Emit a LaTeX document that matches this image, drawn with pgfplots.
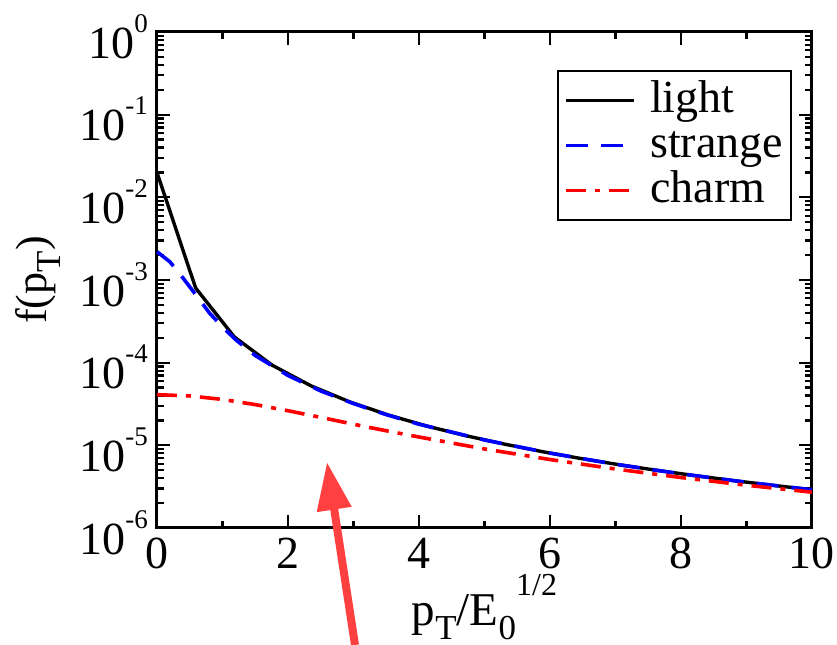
\documentclass[border=0pt]{standalone}
\usepackage{fontspec}
\setmainfont{Liberation Serif}
\usepackage{pgfplots}
\pgfplotsset{compat=1.18}
\usetikzlibrary{arrows.meta}
\definecolor{arrowred}{RGB}{255,64,64}
\definecolor{sblue}{RGB}{0,0,255}
\definecolor{cred}{RGB}{255,0,0}
\newcommand{\tl}[1]{10\raisebox{26pt}{\fontsize{27}{27}\selectfont #1}}
\newcommand{\sub}[1]{\raisebox{-14pt}{\fontsize{35}{35}\selectfont #1}}
\begin{document}
\begin{tikzpicture}
\begin{axis}[
  scale only axis, width=655pt, height=496pt,
  ymode=log, xmin=0, xmax=10, ymin=1e-6, ymax=1,
  xtick={0,2,4,6,8,10}, xticklabels={0,2,4,6,8,10},
  minor x tick num=1,
  ytick={1e-6,1e-5,1e-4,1e-3,1e-2,1e-1,1},
  yticklabels={\tl{-6},\tl{-5},\tl{-4},\tl{-3},\tl{-2},\tl{-1},\tl{0}},
  tick align=inside,
  major tick length=13pt, minor tick length=7pt,
  tick style={black, line width=2.2pt},
  axis line style={line width=3pt},
  font=\fontsize{46}{46}\selectfont,
  yticklabel style={anchor=east, inner sep=0pt, xshift=-9pt, yshift=-4.5pt},
  xticklabel style={anchor=north, inner sep=0pt, yshift=-10pt},
  xlabel={\fontsize{47}{47}\selectfont p\sub{T}/E\sub{0}\raisebox{30pt}{\fontsize{32}{32}\selectfont 1/2}},
  xlabel style={at={(rel axis cs:0.5,-0.1956)}, anchor=base, inner sep=0pt},
  ylabel={\fontsize{44}{44}\selectfont f(p\sub{T})},
  ylabel style={at={(rel axis cs:-0.2168,0.5)}, anchor=north, inner sep=0pt},
  clip=false,
  legend style={at={(rel axis cs:0.9695,0.9234)}, anchor=north east, draw=black, line width=2pt,
    inner sep=7pt, font=\fontsize{46}{46}\selectfont, row sep=0pt,
    nodes={inner sep=1pt, text height=34pt, text depth=9pt},
    /tikz/every odd column/.append style={column sep=13pt}},
  legend cell align=left,
  legend image code/.code={\draw[#1] (0pt,0pt) -- (68pt,0pt);},
]
\addplot[black, line width=3.4pt] coordinates {
(0,0.02) (0.59,8.0e-4) (1.18,2.05e-4) (1.76,9.3e-5) (2.35,5.25e-5) (2.94,3.36e-5)
(3.53,2.33e-5) (4.12,1.71e-5) (4.71,1.31e-5) (5.29,1.04e-5) (5.88,8.39e-6)
(6.47,6.93e-6) (7.06,5.82e-6) (7.65,4.96e-6) (8.24,4.27e-6) (8.82,3.73e-6)
(9.41,3.28e-6) (10,2.9e-6)};
\addlegendentry{light}
\addplot[sblue, line width=3.6pt, dash pattern=on 22pt off 13pt] coordinates {
(0,2.2e-3) (0.2,1.65e-3) (0.4,1.05e-3) (0.6,6.5e-4) (0.8,4.0e-4) (1.0,2.7e-4)
(1.2,1.9e-4) (1.5,1.22e-4) (2,7.0e-5) (2.5,4.55e-5) (3,3.2e-5) (3.5,2.35e-5)
(4,1.8e-5) (5,1.16e-5) (6,8.05e-6) (7,5.9e-6) (8,4.52e-6) (9,3.57e-6) (10,2.9e-6)};
\addlegendentry{strange}
\addplot[cred, line width=3.6pt, dash pattern=on 20pt off 9pt on 5pt off 9pt] coordinates {
(0,4.1e-5) (0.5,3.96e-5) (1,3.59e-5) (1.5,3.11e-5) (2,2.62e-5) (2.5,2.18e-5)
(3,1.80e-5) (3.5,1.50e-5) (4,1.26e-5) (5,9.04e-6) (6,6.73e-6) (7,5.17e-6)
(8,4.08e-6) (9,3.29e-6) (10,2.71e-6)};
\addlegendentry{charm}
\draw[arrowred, line width=8pt, -{Triangle[length=48pt,width=33pt]}]
  (rel axis cs:0.3023,-0.2359) -- (rel axis cs:0.2595,0.133);
\coordinate (TL) at (rel axis cs:-0.2397,1.0645);
\coordinate (BR) at (rel axis cs:1.0382,-0.2359);
\end{axis}
\pgfresetboundingbox
\path[use as bounding box] (TL) rectangle (BR);
\end{tikzpicture}
\end{document}
